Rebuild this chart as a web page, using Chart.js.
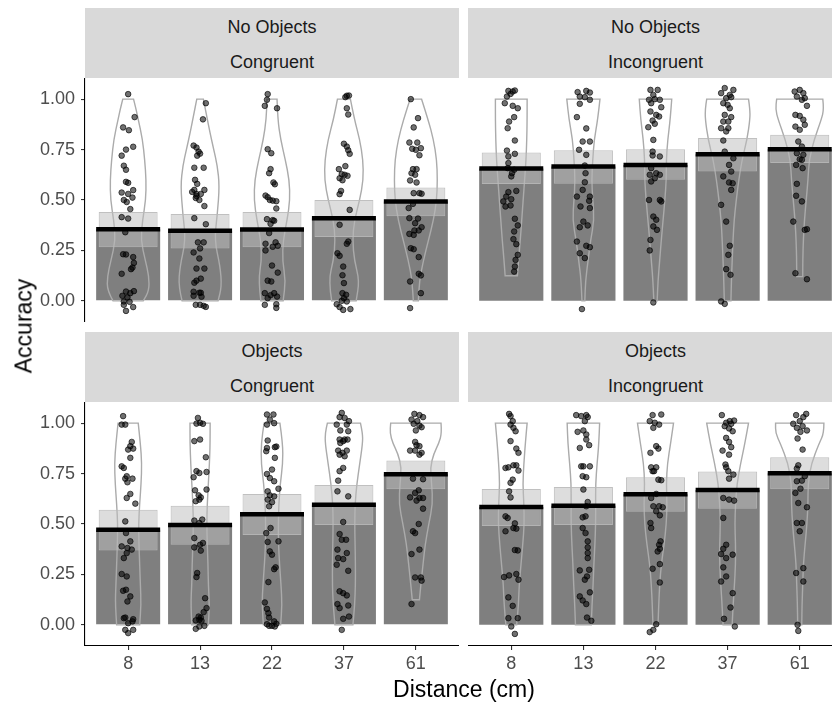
<!DOCTYPE html>
<html>
<head>
<meta charset="utf-8">
<script src="https://cdn.jsdelivr.net/npm/chart.js"></script>
<style>
    body {
        margin: 0;
        width: 832px;
        height: 703px;
        overflow: hidden;
        background: #fff;
        position: relative;
        font-family: 'Liberation Sans', Arial, sans-serif;
    }
    .strip {
        position: absolute;
        height: 70px;
        background: #d9d9d9;
        color: #1a1a1a;
        font-size: 18px;
        text-align: center;
    }
    .strip div {
        position: absolute;
        left: 0;
        right: 0;
        height: 38px;
        line-height: 38px;
    }
    .strip .l2 { top: 35px; }
    canvas { position: absolute; }
    .title {
        position: absolute;
        white-space: nowrap;
        font-size: 23px;
        color: #000;
        transform: translate(-50%, -50%);
    }
</style>
</head>
<body>
<div class="strip" style="left:85px; top:8px; width:374px;"><div>No Objects</div><div class="l2">Congruent</div></div>
<div class="strip" style="left:468px; top:8px; width:375px;"><div>No Objects</div><div class="l2">Incongruent</div></div>
<div class="strip" style="left:85px; top:332px; width:374px;"><div>Objects</div><div class="l2">Congruent</div></div>
<div class="strip" style="left:468px; top:332px; width:375px;"><div>Objects</div><div class="l2">Incongruent</div></div>

<canvas id="plot-01" width="459" height="244" style="left:0; top:78px;"></canvas>
<canvas id="plot-02" width="375" height="244" style="left:468px; top:78px;"></canvas>
<canvas id="plot-03" width="459" height="275" style="left:0; top:402px;"></canvas>
<canvas id="plot-04" width="375" height="275" style="left:468px; top:402px;"></canvas>

<div class="title" style="left:24px; top:326px; transform: translate(-50%, -50%) rotate(-90deg);">Accuracy</div>
<div class="title" style="left:464px; top:689px;">Distance (cm)</div>

<script>
const distanceLabels = ['8', '13', '22', '37', '61'];
const yTicks = [0, 0.25, 0.5, 0.75, 1];
const yMin = -0.105;
const yMax = 1.105;

// No Objects / Congruent
const meanNoObjCong = [0.355, 0.347, 0.354, 0.41, 0.493];
const ciLowNoObjCong = [0.266, 0.26, 0.266, 0.316, 0.42];
const ciHighNoObjCong = [0.441, 0.43, 0.44, 0.5, 0.562];
const violinNoObjCong = [
    [[0, 0.21], [0.05, 0.29], [0.12, 0.29], [0.2, 0.24], [0.3, 0.175], [0.4, 0.2], [0.5, 0.245], [0.6, 0.25], [0.7, 0.23], [0.8, 0.2], [0.9, 0.14], [0.95, 0.11], [1, 0.075]],
    [[0, 0.25], [0.07, 0.3], [0.17, 0.28], [0.3, 0.2], [0.43, 0.24], [0.57, 0.27], [0.67, 0.24], [0.75, 0.19], [0.83, 0.14], [0.92, 0.09], [1, 0.046]],
    [[0, 0.155], [0.1, 0.19], [0.2, 0.145], [0.3, 0.155], [0.4, 0.21], [0.5, 0.25], [0.6, 0.24], [0.7, 0.185], [0.8, 0.12], [0.9, 0.08], [1, 0.07]],
    [[0, 0.17], [0.1, 0.215], [0.2, 0.145], [0.3, 0.12], [0.4, 0.145], [0.5, 0.22], [0.6, 0.27], [0.7, 0.265], [0.8, 0.22], [0.9, 0.145], [1, 0.09]],
    [[0, 0.035], [0.1, 0.05], [0.2, 0.105], [0.3, 0.175], [0.4, 0.245], [0.5, 0.29], [0.6, 0.3], [0.7, 0.29], [0.8, 0.245], [0.9, 0.17], [1, 0.08]]
];
const jitterNoObjCong = [
    [[0, 1.025], [0.09, 0.911], [-0.07, 0.86], [0.01, 0.846], [-0.03, 0.75], [-0.09, 0.72], [0.07, 0.764], [-0.06, 0.67], [-0.03, 0.65], [-0.03, 0.59], [0, 0.585], [-0.09, 0.537], [0.07, 0.549], [0, 0.53], [-0.06, 0.5], [-0.02, 0.49], [0.06, 0.512], [0.03, 0.455], [-0.09, 0.415], [0, 0.408], [-0.04, 0.34], [-0.07, 0.231], [-0.03, 0.23], [0.07, 0.217], [0.08, 0.188], [0.06, 0.165], [0.04, 0.157], [-0.09, 0.134], [-0.03, 0.046], [0.03, 0.038], [0.08, 0.048], [-0.08, 0.025], [-0.01, 0.017], [-0.06, -0.003], [0.02, -0.005], [-0.06, -0.02], [0.07, -0.031], [-0.03, -0.05]],
    [[0.08, 0.98], [0.04, 0.9], [-0.09, 0.77], [-0.05, 0.76], [-0.02, 0.74], [0, 0.73], [-0.04, 0.72], [-0.08, 0.66], [0.05, 0.66], [-0.07, 0.6], [-0.04, 0.58], [-0.11, 0.54], [-0.08, 0.55], [-0.05, 0.53], [0.06, 0.55], [0.01, 0.53], [-0.06, 0.51], [-0.01, 0.5], [-0.05, 0.52], [0.06, 0.47], [-0.08, 0.41], [0.08, 0.38], [-0.03, 0.29], [0.05, 0.29], [0, 0.26], [-0.09, 0.24], [-0.01, 0.21], [-0.05, 0.16], [0.06, 0.16], [0.01, 0.11], [-0.08, 0.09], [-0.05, 0.1], [-0.09, 0.045], [-0.01, 0.04], [0.01, 0.04], [-0.09, 0.025], [0.02, 0.02], [-0.06, -0.02], [0, -0.02], [0.05, -0.025], [0.08, -0.03]],
    [[-0.06, 1.025], [-0.07, 0.997], [-0.1, 0.967], [0.07, 0.955], [-0.06, 0.752], [-0.01, 0.732], [-0.02, 0.653], [-0.04, 0.633], [0.02, 0.587], [0.04, 0.578], [-0.09, 0.522], [-0.06, 0.514], [-0.03, 0.5], [0.01, 0.497], [0.06, 0.494], [0.06, 0.458], [-0.07, 0.405], [0.01, 0.4], [0.03, 0.397], [-0.02, 0.382], [-0.04, 0.336], [-0.09, 0.283], [0.05, 0.29], [0.08, 0.273], [0.01, 0.268], [-0.09, 0.25], [0, 0.175], [0.08, 0.14], [-0.06, 0.1], [-0.01, 0.096], [-0.1, 0.038], [0.03, 0.038], [-0.02, 0.028], [0.07, 0.021], [-0.06, 0.013], [-0.1, -0.02], [0.06, -0.017], [0.06, -0.035]],
    [[0.04, 1.017], [0.07, 1.018], [0.02, 1.01], [0.04, 0.955], [0.06, 0.924], [0, 0.779], [0.04, 0.765], [0.06, 0.747], [0.08, 0.729], [-0.07, 0.653], [0.02, 0.668], [-0.03, 0.628], [0.01, 0.625], [0.05, 0.62], [-0.06, 0.608], [-0.02, 0.598], [-0.04, 0.545], [-0.06, 0.529], [0.08, 0.451], [-0.06, 0.377], [0.06, 0.294], [0.04, 0.283], [-0.09, 0.236], [-0.06, 0.223], [-0.01, 0.17], [-0.02, 0.127], [0, 0.088], [-0.02, 0.038], [0.03, 0.03], [0, 0.013], [-0.03, 0], [0.04, -0.003], [-0.1, -0.017], [-0.06, -0.031], [-0.01, -0.045], [0.09, -0.041]],
    [[-0.07, 1.0], [0.03, 0.906], [-0.03, 0.86], [-0.09, 0.785], [0.02, 0.785], [-0.05, 0.754], [0, 0.749], [0.07, 0.757], [0.05, 0.722], [-0.04, 0.653], [0.01, 0.653], [-0.06, 0.633], [-0.01, 0.625], [-0.08, 0.597], [0.01, 0.587], [-0.03, 0.534], [0.05, 0.534], [0.08, 0.531], [-0.1, 0.46], [-0.04, 0.481], [-0.09, 0.41], [0.03, 0.408], [-0.01, 0.385], [0.08, 0.365], [-0.02, 0.349], [0.04, 0.349], [-0.09, 0.332], [-0.03, 0.327], [-0.07, 0.261], [-0.03, 0.256], [0.04, 0.217], [0.04, 0.134], [0.07, 0.126], [-0.08, 0.096], [0.07, 0.038], [-0.08, -0.036]]
];

// No Objects / Incongruent
const meanNoObjIncong = [0.656, 0.666, 0.674, 0.727, 0.752];
const ciLowNoObjIncong = [0.579, 0.58, 0.6, 0.641, 0.683];
const ciHighNoObjIncong = [0.736, 0.747, 0.752, 0.808, 0.823];
const violinNoObjIncong = [
    [[0.124, 0.085], [0.2, 0.1], [0.3, 0.125], [0.4, 0.145], [0.5, 0.165], [0.6, 0.185], [0.7, 0.205], [0.8, 0.215], [0.9, 0.22], [1, 0.22]],
    [[0, 0.02], [0.1, 0.03], [0.2, 0.065], [0.3, 0.1], [0.4, 0.15], [0.5, 0.13], [0.6, 0.115], [0.7, 0.13], [0.8, 0.15], [0.9, 0.2], [1, 0.23]],
    [[0, 0.023], [0.1, 0.035], [0.2, 0.058], [0.3, 0.08], [0.4, 0.105], [0.5, 0.13], [0.6, 0.15], [0.7, 0.15], [0.8, 0.17], [0.9, 0.205], [1, 0.225]],
    [[0, 0.046], [0.1, 0.053], [0.2, 0.063], [0.3, 0.075], [0.4, 0.09], [0.5, 0.12], [0.6, 0.155], [0.7, 0.2], [0.8, 0.27], [0.9, 0.31], [0.95, 0.31], [1, 0.29]],
    [[0.12, 0.042], [0.2, 0.042], [0.3, 0.05], [0.4, 0.065], [0.5, 0.09], [0.6, 0.115], [0.7, 0.13], [0.8, 0.2], [0.9, 0.3], [0.95, 0.335], [1, 0.32]]
];
const jitterNoObjIncong = [
    [[-0.04, 1.041], [0.02, 1.038], [0.05, 1.043], [-0.01, 1.026], [-0.06, 1.013], [-0.09, 0.98], [0.02, 0.967], [0.09, 0.955], [0.04, 0.911], [-0.03, 0.889], [-0.05, 0.856], [0.05, 0.795], [-0.06, 0.745], [0.05, 0.729], [-0.04, 0.716], [-0.04, 0.683], [-0.05, 0.658], [0.04, 0.65], [0.01, 0.633], [0, 0.617], [-0.04, 0.539], [0.07, 0.545], [-0.07, 0.517], [0, 0.504], [-0.11, 0.493], [-0.01, 0.473], [-0.08, 0.468], [0.05, 0.407], [0.09, 0.374], [0.04, 0.344], [0.03, 0.306], [0.07, 0.281], [0.09, 0.228], [0.06, 0.203], [0.05, 0.17], [0.04, 0.145]],
    [[-0.08, 1.035], [0.04, 1.041], [0.09, 1.033], [-0.05, 1.013], [0.02, 1.01], [0.09, 0.997], [-0.05, 0.977], [-0.09, 0.911], [0.04, 0.855], [-0.01, 0.79], [0.09, 0.79], [-0.06, 0.749], [0.04, 0.724], [0.02, 0.671], [0.03, 0.633], [0.02, 0.588], [-0.01, 0.55], [-0.09, 0.517], [0.09, 0.517], [0.08, 0.496], [-0.04, 0.468], [0.09, 0.46], [0, 0.393], [-0.05, 0.365], [0.06, 0.374], [-0.09, 0.294], [0.04, 0.273], [0.09, 0.266], [-0.05, 0.236], [0.02, 0.212], [-0.02, -0.041]],
    [[-0.07, 1.046], [0.03, 1.046], [-0.03, 1.021], [-0.09, 0.997], [-0.01, 1.0], [0.06, 0.997], [-0.06, 0.98], [0.08, 0.96], [-0.07, 0.939], [0.01, 0.922], [0.05, 0.914], [-0.04, 0.894], [-0.1, 0.861], [-0.01, 0.878], [-0.03, 0.798], [-0.04, 0.74], [-0.04, 0.721], [0.06, 0.716], [-0.06, 0.658], [0.01, 0.633], [-0.08, 0.625], [0.06, 0.625], [-0.01, 0.608], [-0.06, 0.592], [-0.09, 0.5], [0.06, 0.5], [0.08, 0.493], [-0.03, 0.418], [0.01, 0.402], [-0.03, 0.369], [0.02, 0.352], [-0.07, 0.302], [-0.08, 0.25], [-0.03, -0.008]],
    [[-0.04, 1.055], [0.08, 1.046], [-0.09, 1.03], [0.03, 1.021], [-0.02, 1.005], [0.05, 1.01], [-0.06, 0.98], [0, 0.972], [0.03, 0.955], [-0.04, 0.922], [0.05, 0.911], [-0.06, 0.889], [0.01, 0.889], [-0.09, 0.856], [0.01, 0.856], [-0.02, 0.84], [-0.06, 0.795], [-0.04, 0.74], [0.08, 0.707], [0.02, 0.674], [0.05, 0.641], [-0.06, 0.617], [0.02, 0.587], [0.07, 0.583], [0.05, 0.55], [-0.09, 0.476], [-0.02, 0.393], [0.03, 0.273], [0.01, 0.228], [-0.02, 0.157], [0.04, 0.129], [-0.09, -0.003], [-0.04, -0.015]],
    [[-0.07, 1.038], [0, 1.046], [0.05, 1.03], [-0.04, 1.013], [0.07, 1.005], [0.03, 0.997], [0.1, 0.967], [-0.06, 0.922], [0, 0.917], [0.05, 0.898], [-0.06, 0.864], [0.07, 0.873], [0, 0.848], [-0.02, 0.79], [0.03, 0.765], [-0.04, 0.732], [0.05, 0.724], [0, 0.702], [0.03, 0.699], [-0.05, 0.674], [0.04, 0.658], [-0.04, 0.58], [-0.05, 0.521], [0.03, 0.493], [-0.09, 0.393], [0.07, 0.352], [0.1, 0.355], [-0.06, 0.137], [0.1, 0.107]]
];

// Objects / Congruent
const meanObjCong = [0.472, 0.495, 0.548, 0.596, 0.747];
const ciLowObjCong = [0.368, 0.397, 0.445, 0.495, 0.672];
const ciHighObjCong = [0.571, 0.591, 0.649, 0.694, 0.815];
const violinObjCong = [
    [[0, 0.16], [0.1, 0.18], [0.2, 0.17], [0.3, 0.16], [0.4, 0.15], [0.5, 0.145], [0.6, 0.16], [0.7, 0.18], [0.8, 0.19], [0.9, 0.17], [1, 0.14]],
    [[0, 0.115], [0.1, 0.13], [0.2, 0.115], [0.3, 0.11], [0.4, 0.1], [0.5, 0.093], [0.6, 0.1], [0.7, 0.115], [0.8, 0.13], [0.9, 0.14], [1, 0.14]],
    [[0, 0.12], [0.1, 0.14], [0.2, 0.125], [0.3, 0.105], [0.4, 0.09], [0.5, 0.088], [0.6, 0.095], [0.7, 0.115], [0.8, 0.15], [0.9, 0.15], [1, 0.11]],
    [[0, 0.125], [0.1, 0.15], [0.2, 0.16], [0.3, 0.16], [0.4, 0.155], [0.5, 0.15], [0.6, 0.155], [0.7, 0.18], [0.8, 0.22], [0.9, 0.26], [0.95, 0.26], [1, 0.23]],
    [[0.124, 0.05], [0.2, 0.07], [0.3, 0.1], [0.4, 0.13], [0.5, 0.18], [0.6, 0.235], [0.7, 0.22], [0.78, 0.2], [0.85, 0.25], [0.9, 0.32], [0.95, 0.36], [1, 0.35]]
];
const jitterObjCong = [
    [[-0.07, 1.035], [-0.09, 0.993], [-0.04, 0.993], [0.05, 0.907], [0.03, 0.886], [0.07, 0.874], [0, 0.869], [0.03, 0.828], [-0.09, 0.786], [-0.06, 0.778], [-0.02, 0.737], [0.06, 0.725], [-0.04, 0.725], [-0.01, 0.707], [0.03, 0.649], [-0.02, 0.629], [0.1, 0.601], [-0.04, 0.513], [-0.03, 0.455], [0.03, 0.414], [-0.09, 0.389], [-0.01, 0.381], [0.05, 0.373], [-0.02, 0.356], [-0.06, 0.331], [-0.09, 0.252], [-0.02, 0.24], [-0.03, 0.174], [-0.07, 0.169], [0.03, 0.141], [-0.01, 0.116], [-0.06, 0.033], [-0.04, 0.036], [0.07, 0.028], [0.06, 0.017], [0, 0.008], [-0.04, -0.025], [0.07, -0.025], [0, -0.041]],
    [[-0.03, 1.026], [0, 1.002], [-0.05, 0.998], [0.04, 0.997], [-0.08, 0.911], [0, 0.919], [0.08, 0.831], [-0.05, 0.762], [-0.01, 0.753], [0.09, 0.758], [-0.09, 0.732], [-0.07, 0.667], [0.09, 0.671], [-0.02, 0.642], [0.01, 0.632], [-0.01, 0.621], [-0.06, 0.613], [-0.08, 0.517], [0.03, 0.522], [-0.01, 0.505], [-0.08, 0.43], [0.04, 0.406], [0, 0.397], [-0.08, 0.384], [0.01, 0.368], [-0.04, 0.257], [-0.05, 0.237], [0.07, 0.132], [0.09, 0.083], [0.05, 0.063], [-0.02, 0.041], [0.01, 0.036], [-0.01, 0.025], [-0.06, 0.022], [0.02, 0.02], [0.06, -0.005], [-0.01, -0.008], [-0.06, -0.02]],
    [[-0.07, 1.043], [0.02, 1.043], [-0.03, 1.018], [-0.07, 0.993], [0.03, 1.0], [-0.06, 0.914], [-0.07, 0.877], [0.04, 0.881], [0.06, 0.884], [-0.08, 0.861], [0.04, 0.828], [0, 0.77], [-0.07, 0.748], [-0.03, 0.728], [0.03, 0.712], [0.09, 0.675], [-0.06, 0.662], [-0.03, 0.642], [0.03, 0.637], [-0.06, 0.621], [0, 0.608], [-0.04, 0.588], [-0.02, 0.48], [-0.08, 0.455], [-0.06, 0.411], [0.09, 0.414], [-0.03, 0.364], [0, 0.348], [0.05, 0.285], [0.03, 0.276], [-0.05, 0.212], [-0.1, 0.111], [-0.07, 0.079], [-0.05, 0.058], [-0.04, 0.036], [0.03, 0.017], [-0.07, 0.003], [0, -0.005], [0.06, 0.005], [0.04, -0.008], [-0.04, -0.005]],
    [[-0.03, 1.051], [-0.06, 1.03], [0.01, 1.026], [0.07, 1.01], [0.04, 0.993], [-0.1, 0.993], [-0.05, 0.964], [0.06, 0.96], [-0.06, 0.919], [0.01, 0.919], [0.05, 0.919], [-0.05, 0.902], [-0.01, 0.911], [0.04, 0.864], [-0.08, 0.864], [-0.02, 0.853], [-0.06, 0.844], [0.01, 0.836], [-0.06, 0.762], [-0.01, 0.778], [-0.08, 0.715], [-0.09, 0.662], [0.06, 0.637], [-0.01, 0.51], [-0.06, 0.45], [-0.03, 0.422], [0.03, 0.422], [-0.09, 0.373], [0.04, 0.356], [-0.08, 0.331], [-0.01, 0.326], [-0.1, 0.298], [0.06, 0.268], [-0.06, 0.166], [-0.01, 0.157], [0.04, 0.146], [-0.09, 0.103], [0.06, 0.096], [-0.06, 0.083], [0.07, 0.041], [-0.01, 0.03], [-0.03, -0.025]],
    [[-0.02, 1.046], [0.05, 1.04], [0.1, 1.03], [-0.06, 1.018], [0.02, 1.01], [-0.03, 0.997], [0.05, 0.988], [0.08, 0.98], [0, 0.964], [-0.01, 0.907], [0.01, 0.891], [0.05, 0.886], [-0.08, 0.864], [-0.01, 0.864], [0.08, 0.853], [0.05, 0.844], [-0.04, 0.725], [0.1, 0.722], [0.04, 0.667], [-0.01, 0.654], [-0.08, 0.632], [0.05, 0.629], [0.1, 0.629], [0.01, 0.616], [0.1, 0.576], [0.04, 0.5], [-0.04, 0.464], [-0.01, 0.455], [0.05, 0.373], [-0.06, 0.351], [-0.01, 0.235], [0.08, 0.219], [0.07, 0.235], [-0.06, 0.103]]
];

// Objects / Incongruent
const meanObjIncong = [0.584, 0.591, 0.647, 0.669, 0.752];
const ciLowObjIncong = [0.49, 0.495, 0.561, 0.576, 0.672];
const ciHighObjIncong = [0.674, 0.684, 0.732, 0.76, 0.831];
const violinObjIncong = [
    [[0, 0.075], [0.1, 0.1], [0.2, 0.11], [0.3, 0.135], [0.4, 0.16], [0.5, 0.18], [0.6, 0.175], [0.7, 0.16], [0.8, 0.175], [0.9, 0.195], [1, 0.22]],
    [[0, 0.11], [0.1, 0.12], [0.2, 0.135], [0.3, 0.145], [0.4, 0.16], [0.5, 0.17], [0.6, 0.17], [0.7, 0.17], [0.8, 0.19], [0.9, 0.215], [1, 0.225]],
    [[0, 0.035], [0.1, 0.045], [0.2, 0.058], [0.3, 0.08], [0.4, 0.12], [0.5, 0.15], [0.6, 0.16], [0.7, 0.15], [0.8, 0.165], [0.9, 0.21], [1, 0.25]],
    [[0, 0.063], [0.1, 0.077], [0.2, 0.095], [0.3, 0.11], [0.4, 0.11], [0.5, 0.1], [0.6, 0.11], [0.7, 0.13], [0.8, 0.18], [0.9, 0.24], [1, 0.29]],
    [[0, 0.028], [0.1, 0.032], [0.2, 0.042], [0.3, 0.05], [0.4, 0.075], [0.5, 0.1], [0.6, 0.115], [0.7, 0.115], [0.8, 0.16], [0.9, 0.27], [0.95, 0.335], [1, 0.335]]
];
const jitterObjIncong = [
    [[-0.03, 1.046], [-0.01, 1.035], [0.02, 1.01], [-0.01, 0.993], [0.03, 0.977], [0.06, 0.96], [-0.01, 0.911], [0.07, 0.874], [0.1, 0.853], [-0.08, 0.778], [-0.04, 0.781], [0.03, 0.791], [0.07, 0.791], [0.1, 0.765], [0.02, 0.72], [-0.01, 0.704], [-0.03, 0.662], [-0.01, 0.632], [-0.08, 0.538], [-0.05, 0.53], [0.05, 0.503], [0.03, 0.48], [-0.08, 0.464], [0.07, 0.477], [0.05, 0.371], [0.09, 0.369], [-0.1, 0.237], [-0.03, 0.245], [0.07, 0.252], [0.1, 0.224], [-0.04, 0.136], [0.02, 0.094], [-0.04, 0.033], [0.09, 0.033], [0, -0.008], [0.05, -0.045]],
    [[-0.1, 1.04], [-0.03, 1.035], [0.04, 1.04], [0.06, 1.03], [0.02, 1.01], [-0.08, 0.957], [0, 0.964], [0.04, 0.944], [0.04, 0.919], [-0.05, 0.877], [0.08, 0.891], [-0.03, 0.786], [0, 0.786], [0.09, 0.786], [-0.01, 0.737], [0.04, 0.732], [0, 0.671], [0.06, 0.609], [0.04, 0.588], [-0.01, 0.533], [0.03, 0.538], [-0.01, 0.48], [0.03, 0.455], [0.06, 0.414], [0.06, 0.384], [0.06, 0.356], [0.06, 0.331], [-0.05, 0.27], [0.08, 0.273], [0.05, 0.24], [0.02, 0.224], [0.09, 0.161], [-0.05, 0.141], [-0.01, 0.121], [0.04, 0.103], [0.05, 0.036], [0.11, 0.02]],
    [[-0.04, 1.04], [0.08, 1.043], [-0.08, 1.01], [-0.01, 1.002], [0.05, 0.993], [-0.03, 0.977], [0.01, 0.886], [0.04, 0.874], [-0.07, 0.853], [-0.06, 0.781], [0.01, 0.781], [-0.04, 0.762], [-0.02, 0.762], [0.04, 0.72], [0.08, 0.717], [0.01, 0.649], [-0.06, 0.629], [-0.03, 0.588], [0.05, 0.588], [0.1, 0.583], [0.01, 0.563], [0.06, 0.543], [-0.07, 0.505], [-0.06, 0.48], [0.07, 0.414], [0.05, 0.397], [0.06, 0.377], [0.03, 0.364], [0.06, 0.301], [-0.04, 0.278], [0.06, 0.21], [0.01, 0.003], [-0.03, -0.025], [-0.08, -0.036]],
    [[-0.08, 1.04], [0.03, 1.01], [-0.02, 1.002], [0.05, 0.997], [0.09, 1.013], [-0.04, 0.985], [0.02, 0.974], [0.07, 0.96], [-0.02, 0.927], [0.02, 0.907], [-0.07, 0.864], [0.05, 0.881], [0.02, 0.844], [-0.03, 0.795], [-0.02, 0.781], [0.01, 0.762], [0.08, 0.745], [0.02, 0.725], [-0.06, 0.629], [0.02, 0.621], [0.09, 0.616], [-0.06, 0.53], [-0.02, 0.397], [-0.06, 0.377], [-0.09, 0.351], [-0.02, 0.331], [0.07, 0.348], [-0.06, 0.285], [-0.02, 0.24], [-0.09, 0.215], [0.07, 0.157], [0.04, 0.086], [-0.05, 0.03], [0.1, -0.008]],
    [[-0.05, 1.04], [0.09, 1.046], [0.05, 1.03], [0, 1.01], [-0.09, 0.997], [0.04, 0.985], [0.1, 0.964], [-0.04, 0.977], [0.01, 0.957], [-0.03, 0.924], [0.04, 0.869], [-0.02, 0.791], [-0.04, 0.775], [0.07, 0.737], [-0.04, 0.712], [0.03, 0.715], [0.01, 0.675], [-0.06, 0.654], [-0.02, 0.604], [0.1, 0.583], [-0.04, 0.505], [0.03, 0.505], [0, 0.464], [-0.05, 0.257], [0.05, 0.281], [0.05, 0.215], [-0.03, 0], [-0.02, -0.03]]
];

Chart.defaults.font.family = "'Liberation Sans', Arial, sans-serif";
Chart.defaults.font.size = 18;

function makePanel(id, means, ciLow, ciHigh, violins, jitter, showY, showX) {
    // violin outlines, drawn right after the bars
    const violinPlugin = {
        id: 'violins',
        afterDatasetDraw(chart, args) {
            if (args.index !== 0) return;
            const xs = chart.scales.x;
            const ys = chart.scales.y;
            const ctx = chart.ctx;
            ctx.save();
            ctx.strokeStyle = '#ababab';
            ctx.lineWidth = 1.4;
            violins.forEach((shape, gi) => {
                const c = gi + 1;
                const left = shape.map(([v, hw]) => [xs.getPixelForValue(c - hw), ys.getPixelForValue(v)]);
                const right = shape.slice().reverse().map(([v, hw]) => [xs.getPixelForValue(c + hw), ys.getPixelForValue(v)]);
                ctx.beginPath();
                ctx.moveTo(left[0][0], left[0][1]);
                smoothTo(ctx, left);
                ctx.lineTo(right[0][0], right[0][1]);
                smoothTo(ctx, right);
                ctx.closePath();
                ctx.stroke();
            });
            ctx.restore();
        }
    };

    const xScale = {
        type: 'linear',
        min: 0.4,
        max: 5.6,
        offset: false,
        display: showX,
        afterBuildTicks: (s) => { s.ticks = distanceLabels.map((_, i) => ({value: i + 1})); },
        ticks: {
            callback: (v) => distanceLabels[Math.round(v) - 1],
            color: '#4d4d4d',
            padding: 3,
            maxRotation: 0,
            autoSkip: false
        },
        grid: {display: true, offset: false, drawOnChartArea: false, drawTicks: true, tickLength: 4, color: '#333', lineWidth: 1.1},
        border: {display: true, color: '#000', width: 1.1}
    };
    if (showX) {
        xScale.afterFit = (s) => { s.height = 31; s.paddingLeft = 0; s.paddingRight = 0; };
    }

    const yScale = {
        type: 'linear',
        min: yMin,
        max: yMax,
        display: showY,
        afterBuildTicks: (s) => { s.ticks = yTicks.map(v => ({value: v})); },
        ticks: {
            callback: (v) => v.toFixed(2),
            color: '#4d4d4d',
            padding: 6
        },
        grid: {display: true, offset: false, drawOnChartArea: false, drawTicks: true, tickLength: 4, color: '#333', lineWidth: 1.1},
        border: {display: true, color: '#000', width: 1.1}
    };
    if (showY) {
        yScale.afterFit = (s) => { s.width = 85; s.paddingTop = 0; s.paddingBottom = 0; };
    }

    const config = {
        type: 'scatter',
        data: {
            datasets: [
                {
                    type: 'bar',
                    data: means.map((m, i) => ({x: i + 1, y: m})),
                    backgroundColor: '#7f7f7f',
                    barPercentage: 0.89,
                    categoryPercentage: 1,
                    grouped: false,
                    order: 4
                },
                {
                    type: 'bar',
                    data: ciLow.map((lo, i) => ({x: i + 1, y: [lo, ciHigh[i]]})),
                    backgroundColor: 'rgba(190, 190, 190, 0.52)',
                    borderColor: 'rgba(185, 185, 185, 0.9)',
                    borderWidth: 1,
                    borderSkipped: false,
                    barPercentage: 0.82,
                    categoryPercentage: 1,
                    grouped: false,
                    order: 3
                },
                {
                    type: 'scatter',
                    data: jitter.flatMap((g, i) => g.map(([dx, y]) => ({x: i + 1 + dx, y: y}))),
                    pointRadius: 2.8,
                    backgroundColor: 'rgba(0, 0, 0, 0.56)',
                    borderColor: 'rgba(0, 0, 0, 0.7)',
                    borderWidth: 0.9,
                    order: 2
                },
                {
                    type: 'scatter',
                    data: means.map((m, i) => ({x: i + 1, y: m})),
                    pointStyle: 'line',
                    pointRadius: 32,
                    borderColor: '#000',
                    borderWidth: 4.5,
                    order: 1
                }
            ]
        },
        options: {
            responsive: false,
            animation: false,
            events: [],
            layout: {padding: 0, autoPadding: false},
            plugins: {
                legend: {display: false},
                tooltip: {enabled: false}
            },
            scales: {x: xScale, y: yScale}
        },
        plugins: [violinPlugin]
    };

    return new Chart(document.getElementById(id).getContext('2d'), config);
}

function smoothTo(ctx, pts) {
    for (let k = 1; k < pts.length - 1; k++) {
        const mx = (pts[k][0] + pts[k + 1][0]) / 2;
        const my = (pts[k][1] + pts[k + 1][1]) / 2;
        ctx.quadraticCurveTo(pts[k][0], pts[k][1], mx, my);
    }
    const last = pts[pts.length - 1];
    ctx.lineTo(last[0], last[1]);
}

makePanel('plot-01', meanNoObjCong, ciLowNoObjCong, ciHighNoObjCong, violinNoObjCong, jitterNoObjCong, true, false);
makePanel('plot-02', meanNoObjIncong, ciLowNoObjIncong, ciHighNoObjIncong, violinNoObjIncong, jitterNoObjIncong, false, false);
makePanel('plot-03', meanObjCong, ciLowObjCong, ciHighObjCong, violinObjCong, jitterObjCong, true, true);
makePanel('plot-04', meanObjIncong, ciLowObjIncong, ciHighObjIncong, violinObjIncong, jitterObjIncong, false, true);
</script>
</body>
</html>
